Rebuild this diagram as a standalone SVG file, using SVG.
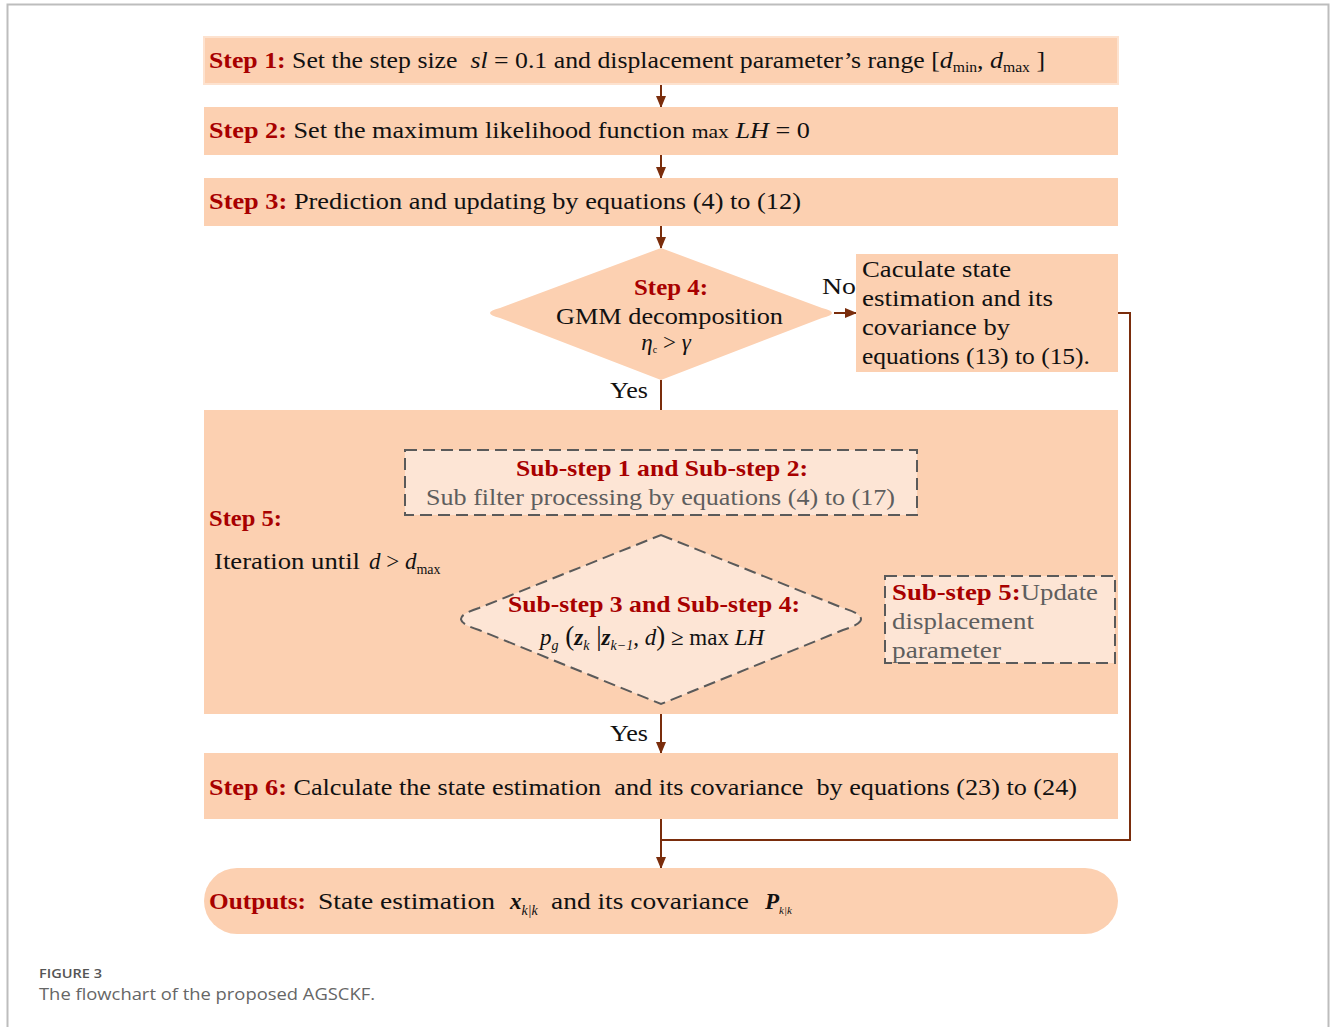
<svg xmlns="http://www.w3.org/2000/svg" width="1330" height="1027" viewBox="0 0 1330 1027">
<defs>
<marker id="ah" markerWidth="12" markerHeight="10" refX="11" refY="5" orient="auto" markerUnits="userSpaceOnUse">
<path d="M0,0 L12,5 L0,10 Z" fill="#7a2d0c"/>
</marker>
<style>
.box{fill:#fcd0b1}
.inner{fill:#fde5d5;stroke:#5a5a5a;stroke-width:2;stroke-dasharray:12,6}
.t{font-family:"Liberation Serif",serif;font-size:23px;fill:#111;white-space:pre}
.g{fill:#5e5e5e}
.b{font-weight:bold;fill:#a80000}
.i{font-style:italic}
.s{font-size:14px}
.c{fill:none;stroke:#7a2d0c;stroke-width:2}
</style>
</defs>
<rect x="7.5" y="4.5" width="1321" height="1030" fill="#fff" stroke="#bdbdbd" stroke-width="2"/>

<g id="connectors">
<line class="c" x1="661" y1="84" x2="661" y2="107" marker-end="url(#ah)"/>
<line class="c" x1="661" y1="155" x2="661" y2="178" marker-end="url(#ah)"/>
<line class="c" x1="661" y1="226" x2="661" y2="248" marker-end="url(#ah)"/>
<line class="c" x1="834" y1="313" x2="856" y2="313" marker-end="url(#ah)"/>
<polyline class="c" points="1118,313 1130,313 1130,840 661,840"/>
<line class="c" x1="661" y1="819" x2="661" y2="868" marker-end="url(#ah)"/>
<line class="c" x1="661" y1="380" x2="661" y2="450" marker-end="url(#ah)"/>
<line class="c" x1="661" y1="515" x2="661" y2="535" marker-end="url(#ah)"/>
<line class="c" x1="869" y1="619" x2="885" y2="619" marker-end="url(#ah)"/>
<polyline class="c" points="1000,576 1000,483 918,483" marker-end="url(#ah)"/>
<line class="c" x1="661" y1="704" x2="661" y2="753" marker-end="url(#ah)"/>
<text class="t" x="822" y="294" textLength="34" lengthAdjust="spacingAndGlyphs">No</text>
<text class="t" x="610" y="398" textLength="38" lengthAdjust="spacingAndGlyphs">Yes</text>
<text class="t" x="849" y="597" textLength="34" lengthAdjust="spacingAndGlyphs">No</text>
<text class="t" x="610" y="741" textLength="38" lengthAdjust="spacingAndGlyphs">Yes</text>
</g>

<g id="step1">
<rect class="box" x="204" y="37" width="914" height="47" stroke="#fde2cf" stroke-width="2"/>
<text class="t" x="209" y="68" textLength="836" lengthAdjust="spacingAndGlyphs"><tspan class="b">Step 1:</tspan> Set the step size  <tspan class="i">sl</tspan> = 0.1 and displacement parameter’s range [<tspan class="i">d</tspan><tspan class="s" dy="4">min</tspan><tspan dy="-4">, </tspan><tspan class="i">d</tspan><tspan class="s" dy="4">max</tspan><tspan dy="-4"> ]</tspan></text>
</g>

<g id="step2">
<rect class="box" x="204" y="107" width="914" height="48"/>
<text class="t" x="209" y="138" textLength="601" lengthAdjust="spacingAndGlyphs"><tspan class="b">Step 2:</tspan> Set the maximum likelihood function <tspan font-size="19">max</tspan> <tspan class="i">LH</tspan> = 0</text>
</g>

<g id="step3">
<rect class="box" x="204" y="178" width="914" height="48"/>
<text class="t" x="209" y="209" textLength="592" lengthAdjust="spacingAndGlyphs"><tspan class="b">Step 3:</tspan> Prediction and updating by equations (4) to (12)</text>
</g>

<g id="step4">
<path class="box" d="M661,248 L822,308 Q842,313 822,318 L661,380 L500,318 Q480,313 500,308 Z"/>
<text class="t b" x="634" y="295" textLength="74" lengthAdjust="spacingAndGlyphs">Step 4:</text>
<text class="t" x="556" y="324" textLength="227" lengthAdjust="spacingAndGlyphs">GMM decomposition</text>
<text class="t" x="666" y="350" text-anchor="middle" font-size="16"><tspan class="i">η</tspan><tspan font-size="10" dy="3">c</tspan><tspan dy="-3"> &gt; </tspan><tspan class="i">γ</tspan></text>
</g>

<g id="calc">
<rect class="box" x="856" y="254" width="262" height="118"/>
<text class="t" x="862" y="277" textLength="149" lengthAdjust="spacingAndGlyphs">Caculate state</text>
<text class="t" x="862" y="306" textLength="191" lengthAdjust="spacingAndGlyphs">estimation and its</text>
<text class="t" x="862" y="335" textLength="148" lengthAdjust="spacingAndGlyphs">covariance by</text>
<text class="t" x="862" y="364" textLength="228" lengthAdjust="spacingAndGlyphs">equations (13) to (15).</text>
</g>

<g id="step5">
<rect class="box" x="204" y="410" width="914" height="304"/>
<text class="t b" x="209" y="526" textLength="73" lengthAdjust="spacingAndGlyphs">Step 5:</text>
<text class="t" x="214" y="569" textLength="146" lengthAdjust="spacingAndGlyphs">Iteration until</text>
<text class="t" x="369" y="569"><tspan class="i">d</tspan> &gt; <tspan class="i">d</tspan><tspan class="s" dy="5">max</tspan></text>
</g>

<g id="substep12">
<rect class="inner" x="405" y="450" width="512" height="65"/>
<text class="t b" x="516" y="476" textLength="292" lengthAdjust="spacingAndGlyphs">Sub-step 1 and Sub-step 2:</text>
<text class="t g" x="426" y="505" textLength="469" lengthAdjust="spacingAndGlyphs">Sub filter processing by equations (4) to (17)</text>
</g>

<g id="substep34">
<path class="inner" d="M661,535 L843,608 Q879,619 843,630 L661,704 L479,630 Q443,619 479,608 Z"/>
<text class="t b" x="508" y="612" textLength="292" lengthAdjust="spacingAndGlyphs">Sub-step 3 and Sub-step 4:</text>
<text class="t" x="540" y="645"><tspan class="i">p</tspan><tspan class="s i" dy="5">g</tspan><tspan dy="-5" font-size="27"> (</tspan><tspan class="i" font-weight="bold">z</tspan><tspan class="s i" dy="5">k</tspan><tspan dy="-5" font-size="27"> |</tspan><tspan class="i" font-weight="bold">z</tspan><tspan class="s i" dy="5">k−1</tspan><tspan dy="-5">, </tspan><tspan class="i">d</tspan><tspan font-size="27">)</tspan> ≥ max <tspan class="i">LH</tspan></text>
</g>

<g id="substep5">
<rect class="inner" x="885" y="576" width="230" height="87"/>
<text class="t" x="892" y="600" textLength="206" lengthAdjust="spacingAndGlyphs"><tspan class="b">Sub-step 5</tspan><tspan class="b">:</tspan><tspan class="g">Update</tspan></text>
<text class="t g" x="892" y="629" textLength="142" lengthAdjust="spacingAndGlyphs">displacement</text>
<text class="t g" x="892" y="658" textLength="109" lengthAdjust="spacingAndGlyphs">parameter</text>
</g>

<g id="step6">
<rect class="box" x="204" y="753" width="914" height="66"/>
<text class="t" x="209" y="795" textLength="868" lengthAdjust="spacingAndGlyphs"><tspan class="b">Step 6:</tspan> Calculate the state estimation  and its covariance  by equations (23) to (24)</text>
</g>

<g id="outputs">
<rect class="box" x="204" y="868" width="914" height="66" rx="33" ry="33"/>
<text class="t b" x="209" y="909" textLength="97" lengthAdjust="spacingAndGlyphs">Outputs:</text>
<text class="t" x="318" y="909" textLength="177" lengthAdjust="spacingAndGlyphs">State estimation</text>
<text class="t" x="510" y="909"><tspan class="i" font-weight="bold">x</tspan><tspan class="s i" dy="6">k|k</tspan></text>
<text class="t" x="551" y="909" textLength="198" lengthAdjust="spacingAndGlyphs">and its covariance</text>
<text class="t" x="765" y="909" font-size="18"><tspan class="i" font-weight="bold">P</tspan><tspan class="i" font-size="11" dy="5">k|k</tspan></text>
</g>

<g id="caption">
<text x="39" y="978" font-family="'Open Sans',sans-serif" font-size="12" font-weight="600" fill="#555" textLength="63" lengthAdjust="spacingAndGlyphs">FIGURE 3</text>
<text x="39" y="1000" font-family="'Open Sans',sans-serif" font-size="16.5" fill="#666" textLength="336" lengthAdjust="spacingAndGlyphs">The flowchart of the proposed AGSCKF.</text>
</g>
</svg>
